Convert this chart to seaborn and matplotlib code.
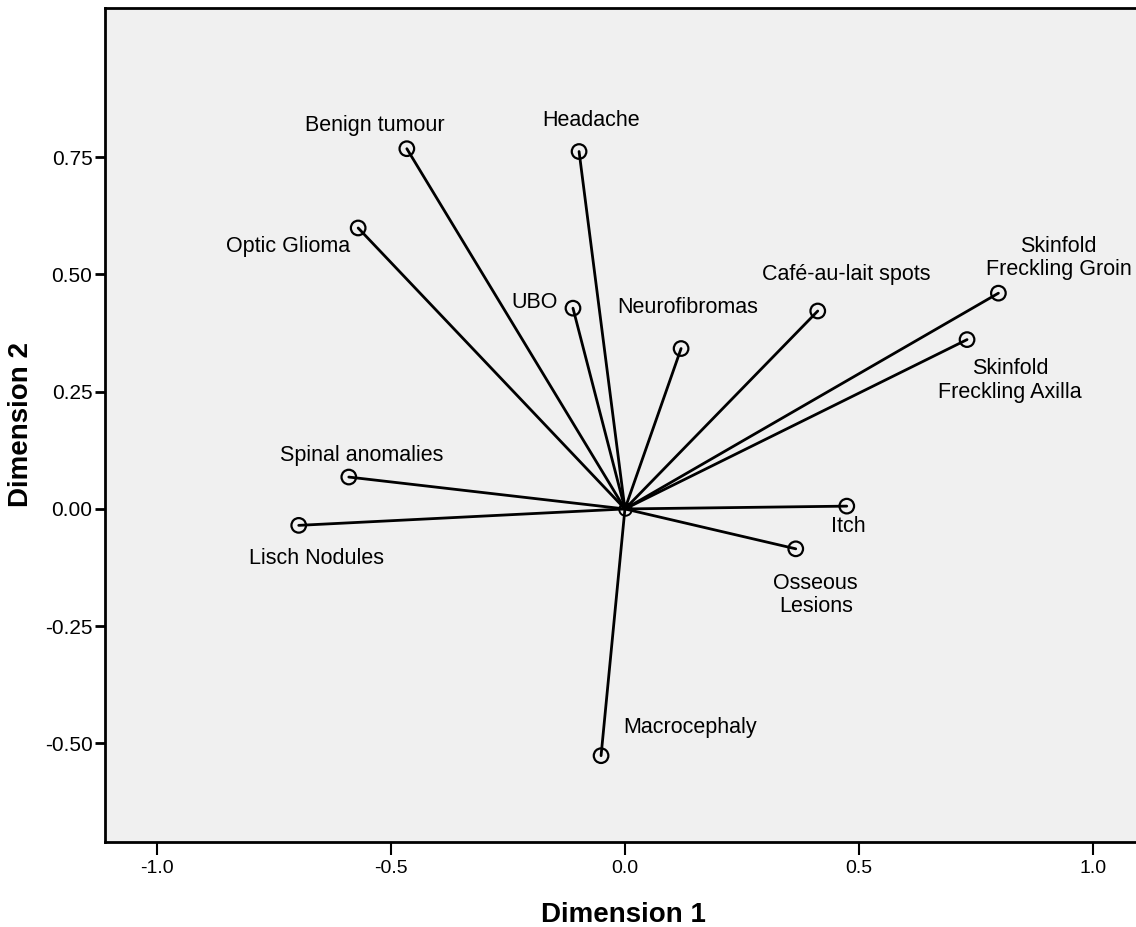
import matplotlib
matplotlib.use("Agg")
import matplotlib.pyplot as plt
import seaborn as sns
import pandas as pd

# Component loadings
LABELS = [
    "Benign tumour", "Headache", "Optic Glioma", "UBO", "Neurofibromas",
    "Café-au-lait spots", "Skinfold\nFreckling Groin", "Skinfold\nFreckling Axilla",
    "Spinal anomalies", "Lisch Nodules", "Itch", "Osseous\nLesions", "Macrocephaly",
]
DIM1 = [-0.466, -0.098, -0.570, -0.111, 0.120, 0.412, 0.798, 0.731,
        -0.590, -0.697, 0.474, 0.365, -0.051]
DIM2 = [0.768, 0.762, 0.599, 0.428, 0.342, 0.422, 0.460, 0.361,
        0.068, -0.035, 0.006, -0.085, -0.526]

X_TICKS = [-1.0, -0.5, 0.0, 0.5, 1.0]
Y_TICKS = [-0.50, -0.25, 0.00, 0.25, 0.50, 0.75]

# label offsets in pixels from each point
OFFSETS = [(-32, 23), (12, 31), (-70, -19), (-38, 6), (7, 41), (28, 36), (60, 35),
           (43, -41), (13, 22), (18, -33), (2, -20), (20, -46), (89, 28)]

sns.set_style("white")
plt.rcParams["font.family"] = ["Liberation Sans", "DejaVu Sans"]
plt.rcParams["text.color"] = "black"
plt.rcParams["axes.labelcolor"] = "black"
plt.rcParams["xtick.color"] = "black"
plt.rcParams["ytick.color"] = "black"
plt.rcParams["xtick.bottom"] = True
plt.rcParams["ytick.left"] = True

# long table: each vector = origin row + loading row
rows = []
for lab, x, y in zip(LABELS, DIM1, DIM2):
    rows.append({"item": lab, "dim1": 0.0, "dim2": 0.0, "step": 0})
    rows.append({"item": lab, "dim1": x, "dim2": y, "step": 1})
vec = pd.DataFrame(rows)
pts = pd.DataFrame({"item": LABELS, "dim1": DIM1, "dim2": DIM2})

fig = plt.figure(figsize=(11.36, 9.27), dpi=100)
ax = fig.add_axes([0.0924, 0.0917, 0.9076, 0.8997])
ax.set_facecolor("#f0f0f0")

sns.lineplot(data=vec, x="dim1", y="dim2", units="item", estimator=None,
             sort=False, color="black", lw=2, ax=ax, zorder=2)
sns.scatterplot(data=pts, x="dim1", y="dim2", marker="o", s=110,
                facecolor="none", edgecolor="black", linewidth=1.6, ax=ax, zorder=3)
ax.plot([0], [0], "o", ms=9, mfc="none", mec="black", mew=1.4, zorder=3)

for lab, x, y, off in zip(LABELS, DIM1, DIM2, OFFSETS):
    ax.annotate(lab, (x, y), xytext=off, textcoords="offset pixels",
                ha="center", va="center", fontsize=15.5, linespacing=1.15)

ax.set_xlim(-1.111, 1.092)
ax.set_ylim(-0.710, 1.068)
ax.set_xticks(X_TICKS)
ax.set_xticklabels([f"{v:.1f}" for v in X_TICKS])
ax.set_yticks(Y_TICKS)
ax.set_yticklabels([f"{v:.2f}" for v in Y_TICKS])
ax.tick_params(axis="x", direction="out", length=9, width=1.5, labelsize=14, pad=4)
ax.tick_params(axis="y", direction="out", length=7, width=2, labelsize=15, pad=2)

for side in ["left", "bottom", "top"]:
    ax.spines[side].set_linewidth(2)
    ax.spines[side].set_color("black")
ax.spines["right"].set_visible(False)

ax.set_xlabel("Dimension 1", fontsize=20, fontweight="bold", va="center")
ax.set_ylabel("Dimension 2", fontsize=20, fontweight="bold", va="center")
ax.xaxis.set_label_coords(0.503, -0.0875)
ax.yaxis.set_label_coords(-0.0815, 0.5)

fig.savefig("out.png", dpi=100)
